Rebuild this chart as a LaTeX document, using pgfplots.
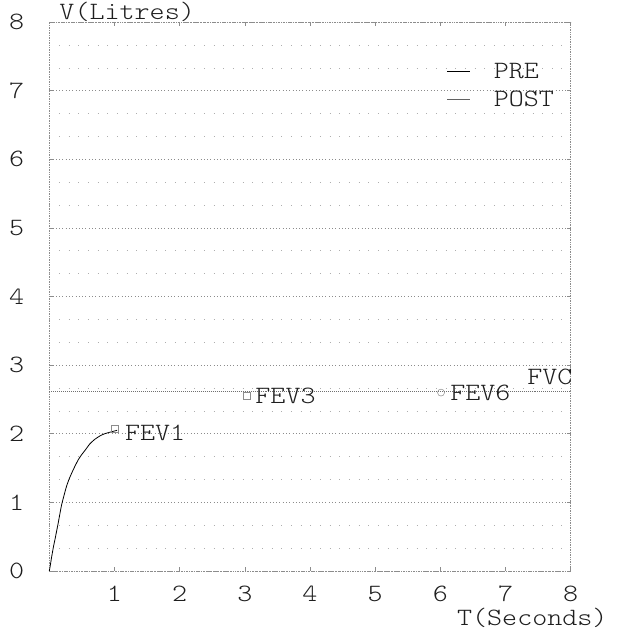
\documentclass[border=0pt]{standalone}
\usepackage{fontspec}
\setmainfont{Latin Modern Mono Light}[FakeStretch=1.15]
\usepackage{pgfplots}
\pgfplotsset{compat=1.18}
\definecolor{ink}{HTML}{1E1E1E}
\definecolor{gridc}{HTML}{8C8C8C}
\begin{document}
\begin{tikzpicture}
\begin{axis}[
  name=ax,
  scale only axis,
  width=521.4bp, height=549bp,
  xmin=0, xmax=8, ymin=0, ymax=8,
  xtick={1,2,3,4,5,6,7,8},
  ytick={0,1,2,3,4,5,6,7,8},
  minor ytick={0.333,0.667,1.333,1.667,2.333,2.667,3.333,3.667,4.333,4.667,5.333,5.667,6.333,6.667,7.333,7.667},
  ymajorgrids, yminorgrids,
  major grid style={gridc, line width=0.5pt, dash pattern=on 0.7pt off 2.6pt},
  minor grid style={gridc!70, line width=0.5pt, dash pattern=on 0.7pt off 9pt},
  axis line style={gridc, line width=0.5pt, dash pattern=on 0.8pt off 0.9pt},
  tick style={gridc, line width=0.5pt},
  major tick length=4pt,
  minor tick length=0pt,
  tick align=inside,
  font=\fontsize{25}{28}\selectfont,
  /pgf/number format/assume math mode=true,
  ticklabel style={text=ink},
  xticklabel style={anchor=north, inner sep=0pt, yshift=-15bp},
  yticklabel style={anchor=east, inner sep=0pt, xshift=-25bp},
  xlabel={T(Seconds)},
  ylabel={V(Litres)},
  every axis x label/.style={at={(rel axis cs:1,0)}, anchor=base east, inner sep=0pt, xshift=37bp, yshift=-54bp, text=ink},
  every axis y label/.style={at={(rel axis cs:0,1)}, anchor=base west, inner sep=0pt, xshift=10bp, yshift=2bp, text=ink},
  clip=false,
  legend style={at={(axis cs:6.10,7.07)}, anchor=west, draw=none, fill=none, inner sep=0pt, row sep=7bp, font=\fontsize{25}{28}\selectfont, text=ink, cells={anchor=west}},
  legend image code/.code={\draw[#1] (0bp,0bp) -- (23bp,0bp); \path (44bp,0bp);},
  legend cell align=left,
]
% FVC level line
\addplot[gridc!80!black, line width=0.6pt, dash pattern=on 1pt off 1pt, forget plot] coordinates {(0,2.62) (8,2.62)};
% PRE curve
\addplot[black, line width=0.8pt, smooth, tension=0.4] coordinates {
(0,0) (0.01,0.05) (0.02,0.11) (0.035,0.2) (0.05,0.28) (0.065,0.36) (0.085,0.45)
(0.11,0.57) (0.135,0.69) (0.16,0.82) (0.19,0.97) (0.22,1.08) (0.26,1.22) (0.3,1.33)
(0.35,1.44) (0.4,1.54) (0.45,1.63) (0.5,1.7) (0.55,1.76) (0.62,1.85) (0.7,1.92)
(0.78,1.97) (0.85,2.0) (0.92,2.02) (1.0,2.04) (1.04,2.05)};
\addlegendentry{PRE}
\addlegendimage{gridc!70!black, line width=0.6pt}
\addlegendentry{POST}
% markers
\addplot[only marks, mark=square, mark size=3.5bp, gridc, mark options={line width=0.5pt}, forget plot] coordinates {(1.01,2.07) (3.03,2.56)};
\addplot[only marks, mark=o, mark size=3.5bp, gridc, mark options={line width=0.5pt}, forget plot] coordinates {(6.01,2.60)};
\node[anchor=west, inner sep=0pt, text=ink] at (axis cs:1.16,2.01) {FEV1};
\node[anchor=west, inner sep=0pt, text=ink] at (axis cs:3.16,2.55) {FEV3};
\node[anchor=west, inner sep=0pt, text=ink] at (axis cs:6.15,2.60) {FEV6};
\node[anchor=east, inner sep=0pt, text=ink] at (axis cs:8.03,2.83) {FVC};
\end{axis}
\pgfresetboundingbox
\path[use as bounding box] ([xshift=-49.3bp,yshift=-65bp]ax.south west) rectangle ([xshift=60.3bp,yshift=22bp]ax.north east);
\end{tikzpicture}
\end{document}
